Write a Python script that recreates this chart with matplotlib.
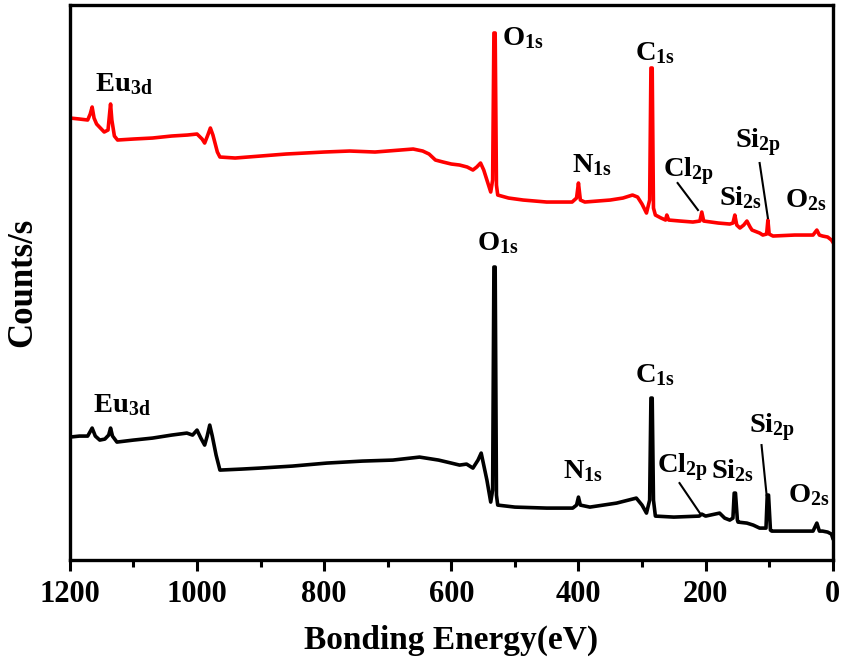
import matplotlib
matplotlib.use("Agg")
import matplotlib.pyplot as plt
import numpy as np

plt.rcParams['font.family'] = ['Liberation Serif', 'DejaVu Serif']
plt.rcParams['font.weight'] = 'bold'
plt.rcParams['mathtext.fontset'] = 'custom'
plt.rcParams['mathtext.rm'] = 'Liberation Serif:bold'
plt.rcParams['mathtext.it'] = 'Liberation Serif:bold'
plt.rcParams['mathtext.bf'] = 'Liberation Serif:bold'

# 红色谱线 (结合能 eV, 强度 a.u.)
red_energy = [1200, 1185, 1172, 1168, 1165, 1162, 1158, 1152, 1146, 1140, 1137, 1136, 1134,
              1130, 1125, 1100, 1070, 1040, 1015, 1000, 992, 988, 983, 979, 975, 968, 964,
              940, 900, 860, 800, 760, 720, 680, 660, 645, 635, 625, 613, 600, 587, 575, 566,
              560, 554, 549, 544, 538, 535, 533, 531, 529, 527, 510, 487, 450, 410, 403, 400,
              397, 390, 350, 330, 315, 307, 300, 293, 288, 286, 284, 282, 279, 270, 263, 261,
              258, 240, 220, 209, 206, 203, 180, 162, 157, 154, 151, 146, 140, 135, 130, 127,
              115, 110, 104, 102, 100, 94, 60, 31, 25, 21, 16, 8, 2, 0]
red_counts = [442, 441, 440, 446, 453, 442, 436, 432, 428, 430, 450, 456, 440,
              424, 420, 421, 422, 424, 425, 426, 421, 417, 425, 432, 425, 408, 403,
              402, 404, 406, 408, 409, 408, 410, 411, 409, 406, 400, 398, 396, 395, 393, 390,
              393, 397, 390, 380, 368, 380, 527, 527, 375, 365, 362, 360, 358, 358, 362, 377,
              360, 358, 360, 362, 365, 363, 356, 347, 360, 492, 492, 352, 345, 342, 340, 345,
              340, 339, 338, 339, 348, 339, 337, 336, 337, 345, 335, 332, 335, 339, 333, 330,
              327, 325, 326, 340, 326, 324, 325, 325, 330, 325, 324, 323, 320, 318]

# 黑色谱线
black_energy = [1200, 1185, 1172, 1165, 1160, 1153, 1145, 1139, 1136, 1133, 1126, 1100, 1070,
                1040, 1016, 1007, 1000, 994, 988, 984, 980, 976, 970, 964, 930, 901, 850, 796,
                740, 692, 650, 620, 600, 587, 576, 566, 558, 553, 549, 544, 538, 535, 533, 531,
                529, 527, 500, 450, 409, 403, 400, 397, 382, 340, 309, 300, 293, 288, 286, 284,
                282, 279, 250, 210, 206, 200, 178, 170, 162, 157, 155, 153, 150, 149, 135, 125,
                115, 105, 103, 101, 98, 96, 60, 31, 25, 21, 16, 8, 2, 0]
black_counts = [123, 124, 124, 132, 124, 120, 121, 125, 132, 124, 118, 120, 122,
                125, 127, 125, 130, 122, 115, 124, 135, 124, 105, 90, 91, 92, 94, 97,
                99, 100, 103, 100, 97, 95, 96, 92, 100, 107, 95, 80, 58, 70, 293, 293,
                65, 55, 53, 52, 52, 55, 63, 55, 53, 57, 62, 55, 47, 60, 162, 162,
                60, 44, 43, 44, 46, 44, 47, 42, 40, 42, 67, 67, 40, 38, 37, 35,
                32, 32, 65, 65, 30, 29, 29, 29, 37, 29, 29, 28, 26, 22]

# 峰标注: (文字, 左端能量, 基线强度)
red_labels = [("Eu$_{3d}$", 1161, 469), ("O$_{1s}$", 521, 515), ("C$_{1s}$", 311, 500),
              ("N$_{1s}$", 410, 388), ("Cl$_{2p}$", 267, 383), ("Si$_{2s}$", 179, 355),
              ("Si$_{2p}$", 154, 412), ("O$_{2s}$", 75, 353)]
black_labels = [("Eu$_{3d}$", 1164, 148), ("O$_{1s}$", 560, 310), ("C$_{1s}$", 311, 178),
                ("N$_{1s}$", 425, 82), ("Cl$_{2p}$", 277, 87), ("Si$_{2s}$", 192, 82),
                ("Si$_{2p}$", 132, 127), ("O$_{2s}$", 71, 58)]
# 引线: ((E1, E2), (I1, I2))
red_leaders = [((244, 212), (377, 350)), ((115, 102), (397, 342))]
black_leaders = [((241, 209), (77, 47)), ((112, 104), (115, 65))]

fig = plt.figure(figsize=(8.42, 6.66), dpi=100)
ax = fig.add_axes([0.083, 0.159, 0.906, 0.8335])

ax.plot(red_energy, red_counts, color='#ff0000', lw=2.6)
ax.plot(black_energy, black_counts, color='black', lw=2.6)

for txt, e, c in red_labels + black_labels:
    ax.text(e, c, txt, fontsize=20.5, fontweight='bold', ha='left', va='baseline')
for xs, ys in red_leaders + black_leaders:
    ax.plot(xs, ys, color='black', lw=1.5)

ax.set_xlim(1200, 0)
ax.set_ylim(0, 555)
ax.set_xticks(np.arange(0, 1201, 200))
ax.set_xticks(np.arange(100, 1200, 200), minor=True)
ax.set_yticks([])
ax.tick_params(axis='x', which='major', direction='out', length=8, width=2.2, labelsize=22, pad=6)
ax.tick_params(axis='x', which='minor', direction='out', length=5, width=2.2)
for lab in ax.get_xticklabels():
    lab.set_fontweight('bold')
for sp in ax.spines.values():
    sp.set_linewidth(2.4)

ax.set_xlabel("Bonding Energy(eV)", fontsize=24, fontweight='bold', labelpad=12)
ax.set_ylabel("Counts/s", fontsize=25, fontweight='bold', labelpad=22)

fig.savefig("out.png", dpi=100)
